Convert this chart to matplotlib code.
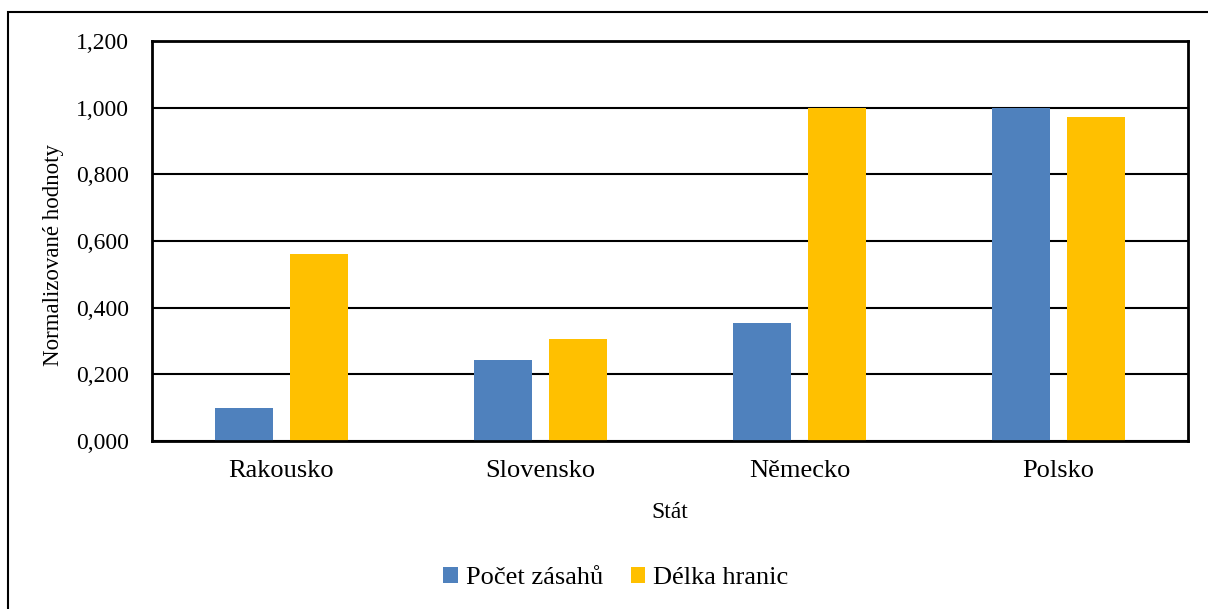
import numpy as np
import matplotlib.pyplot as plt
from matplotlib.patches import Rectangle
from matplotlib.ticker import FuncFormatter

states = ['Rakousko', 'Slovensko', 'Německo', 'Polsko']
zasahy = [0.099, 0.243, 0.354, 1.000]
hranice = [0.561, 0.306, 1.000, 0.972]
yticks = [0.0, 0.2, 0.4, 0.6, 0.8, 1.0, 1.2]

plt.rcParams['font.family'] = ['Liberation Serif', 'DejaVu Serif']

fig = plt.figure(figsize=(12.08, 6.09), dpi=100)
ax = fig.add_axes([152 / 1208, 1 - 441 / 609, 1036 / 1208, 400 / 609])

# outer chart border (runs off the right and bottom edge)
fig.patches.append(Rectangle((8 / 1208, -0.1), 1.2, 1 - 12 / 609 + 0.1,
                             transform=fig.transFigure, fill=False,
                             edgecolor='black', linewidth=1.5, zorder=0))

x = np.arange(len(states))
w = 0.224
ax.bar(x - 0.143, zasahy, w, color='#4f81bd', label='Počet zásahů', zorder=3)
ax.bar(x + 0.143, hranice, w, color='#ffc000', label='Délka hranic', zorder=3)

ax.set_xlim(-0.5, len(states) - 0.5)
ax.set_ylim(0, 1.2)
ax.set_yticks(yticks)
ax.yaxis.set_major_formatter(FuncFormatter(lambda v, p: f'{v:.3f}'.replace('.', ',')))
ax.set_xticks(x)
ax.set_xticklabels(states)
ax.tick_params(axis='x', length=0, labelsize=19, pad=14)
ax.tick_params(axis='y', length=0, labelsize=17, pad=16.5)
ax.grid(axis='y', color='black', linewidth=1.5, zorder=1)
for s in ax.spines.values():
    s.set_linewidth(2)
    s.set_zorder(4)

ax.set_xlabel('Stát', fontsize=17)
ax.set_ylabel('Normalizované hodnoty', fontsize=16.5)
ax.xaxis.set_label_coords(0.5, -0.152)
ax.yaxis.set_label_coords(-0.085, 0.465)

ax.legend(loc='center', bbox_to_anchor=(616 / 1208, 1 - 578 / 609),
          bbox_transform=fig.transFigure, ncol=2, frameon=False,
          fontsize=19, handlelength=0.55, handleheight=0.55,
          handletextpad=0.3, columnspacing=1.05)

fig.savefig('out.png', dpi=100)
